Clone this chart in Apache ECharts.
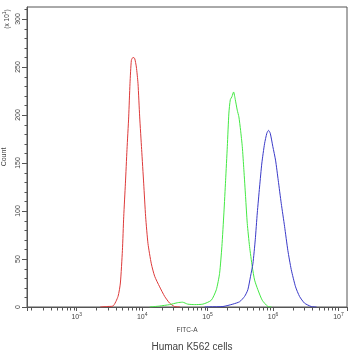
<!DOCTYPE html>
<html>
<head>
<meta charset="utf-8">
<script src="https://cdn.jsdelivr.net/npm/echarts@6/dist/echarts.min.js"></script>
<style>
html, body { margin: 0; padding: 0; background: #fff; }
#main { width: 350px; height: 353px; }
</style>
</head>
<body>
<div id="main"></div>
<script>
// FITC-A given as log10 exponent, counts in units of 10
var redX = [3.36, 3.453, 3.554, 3.631, 3.667, 3.698, 3.718, 3.744, 3.768, 3.794, 3.814, 3.835, 3.860, 3.885, 3.911, 3.936, 3.962, 3.992, 4.023, 4.053, 4.089, 4.140, 4.191, 4.267, 4.344, 4.420, 4.496, 4.58];
var redY = [0, 0.5, 1, 11, 25, 59, 94, 129, 164, 198, 233, 257, 260, 259, 250, 233, 198, 164, 129, 94, 66, 45, 32, 21, 11, 4, 0.5, 0];

var greenX = [4.115, 4.267, 4.420, 4.542, 4.618, 4.695, 4.802, 4.928, 5.056, 5.133, 5.183, 5.218, 5.249, 5.275, 5.301, 5.325, 5.347, 5.371, 5.397, 5.423, 5.453, 5.478, 5.504, 5.530, 5.554, 5.580, 5.606, 5.641, 5.682, 5.718, 5.768, 5.835, 5.921, 5.977];
var greenY = [0, 1, 2.5, 4.5, 5, 3, 2.5, 3, 7, 18, 35, 63, 98, 132, 167, 202, 216, 219, 224, 216, 205, 198, 184, 167, 143, 115, 87, 63, 42, 28, 18, 7, 0.5, 0];

var blueX = [4.954, 5.031, 5.234, 5.386, 5.489, 5.565, 5.615, 5.656, 5.692, 5.728, 5.759, 5.794, 5.829, 5.870, 5.905, 5.931, 5.957, 5.997, 6.038, 6.079, 6.125, 6.176, 6.226, 6.278, 6.344, 6.405, 6.481, 6.583, 6.664];
var blueY = [0, 0.2, 0.5, 3, 5.5, 11, 18, 32, 45, 70, 98, 125, 150, 170, 181, 184, 181, 167, 153, 132, 108, 84, 59, 39, 21, 11, 4, 0.5, 0];

var decades = [2, 3, 4, 5, 6, 7];
var minorSteps = [2, 3, 4, 5, 6, 7, 8, 9];
var yMajorStep = 50;
var yMinorStep = 10;

var xMin = 2.24, xMax = 7.13, yMax = 312.5;

function pairs(xs, ys) {
    return xs.map(function (x, i) { return [x, ys[i]]; });
}

// log minor tick positions (2..9 x 10^n)
var xMinorTicks = [];
decades.forEach(function (d) {
    minorSteps.forEach(function (k) {
        var v = d + Math.log10(k);
        if (v > xMin && v < xMax) xMinorTicks.push(v);
    });
});
var yMinorTicks = [];
for (var v = yMinorStep; v < yMax; v += yMinorStep) {
    if (v % yMajorStep !== 0) yMinorTicks.push(v);
}

var chart = echarts.init(document.getElementById('main'));

function tickSeries(data, vertical, len) {
    return {
        type: 'custom',
        silent: true,
        clip: false,
        data: data,
        renderItem: function (params, api) {
            var p = api.coord([api.value(0), api.value(1)]);
            var x = Math.round(p[0]) + 0.5, y = Math.round(p[1]) + 0.5;
            return {
                type: 'line',
                shape: vertical ? { x1: x, y1: y, x2: x, y2: y + len } : { x1: x, y1: y, x2: x - len, y2: y },
                style: { stroke: '#555', lineWidth: 1 }
            };
        }
    };
}

var option = {
    animation: false,
    textStyle: { fontFamily: 'Liberation Sans, Arial, sans-serif' },
    title: {
        text: 'Human K562 cells',
        left: 187, top: 337,
        textAlign: 'center',
        textStyle: { fontSize: 10, fontWeight: 'normal', color: '#444' }
    },
    graphic: [{
        type: 'text',
        x: 7, y: 19,
        rotation: Math.PI / 2,
        style: {
            text: '(x {b|10}{s|1})',
            rich: {
                b: { fontSize: 6.5, fill: '#444' },
                s: { fontSize: 5, fill: '#444', verticalAlign: 'top', padding: [0, 0, 4, 0] }
            },
            fill: '#444', fontSize: 6.5, align: 'center', verticalAlign: 'middle'
        }
    }],
    grid: {
        left: 27, top: 7, right: 3, bottom: 46,
        outerBoundsMode: 'none',
        containLabel: false,
        show: true, borderColor: '#555', borderWidth: 1
    },
    xAxis: {
        type: 'value',
        min: xMin, max: xMax,
        name: 'FITC-A',
        nameLocation: 'middle',
        nameGap: 20,
        nameTextStyle: { fontSize: 6.5, color: '#444' },
        splitLine: { show: false },
        axisLine: { lineStyle: { color: '#555' } },
        axisTick: { show: true, length: 4, lineStyle: { color: '#555' } },
        axisLabel: {
            margin: 5,
            color: '#444',
            formatter: function (v) {
                if (Math.abs(v - Math.round(v)) > 1e-6) return '';
                return '{b|10}{s|' + Math.round(v) + '}';
            },
            rich: {
                b: { fontSize: 7, color: '#444', verticalAlign: 'bottom', lineHeight: 9 },
                s: { fontSize: 5, color: '#444', verticalAlign: 'top', lineHeight: 9, padding: [0, 0, 4, 0] }
            }
        }
    },
    yAxis: {
        type: 'value',
        min: 0, max: yMax, interval: yMajorStep,
        name: 'Count',
        nameLocation: 'middle',
        nameGap: 17,
        nameRotate: 90,
        nameTextStyle: { fontSize: 7, color: '#444' },
        splitLine: { show: false },
        axisLine: { lineStyle: { color: '#555' } },
        axisTick: { length: 5, lineStyle: { color: '#555' } },
        axisLabel: {
            rotate: 90, margin: 5, fontSize: 7, color: '#444',
            showMaxLabel: false
        }
    },
    series: [
        {
            type: 'line', data: pairs(redX, redY), showSymbol: false, smooth: 0.2,
            lineStyle: { color: '#dd3a3a', width: 1 }, itemStyle: { color: '#dd3a3a' }
        },
        {
            type: 'line', data: pairs(greenX, greenY), showSymbol: false, smooth: 0.2,
            lineStyle: { color: '#44e844', width: 1 }, itemStyle: { color: '#44e844' }
        },
        {
            type: 'line', data: pairs(blueX, blueY), showSymbol: false, smooth: 0.2,
            lineStyle: { color: '#3a3ac8', width: 1 }, itemStyle: { color: '#3a3ac8' }
        },
        tickSeries(xMinorTicks.map(function (v) { return [v, 0]; }), true, 3),
        tickSeries(yMinorTicks.map(function (v) { return [xMin, v]; }), false, 3)
    ]
};

chart.setOption(option);
</script>
</body>
</html>
